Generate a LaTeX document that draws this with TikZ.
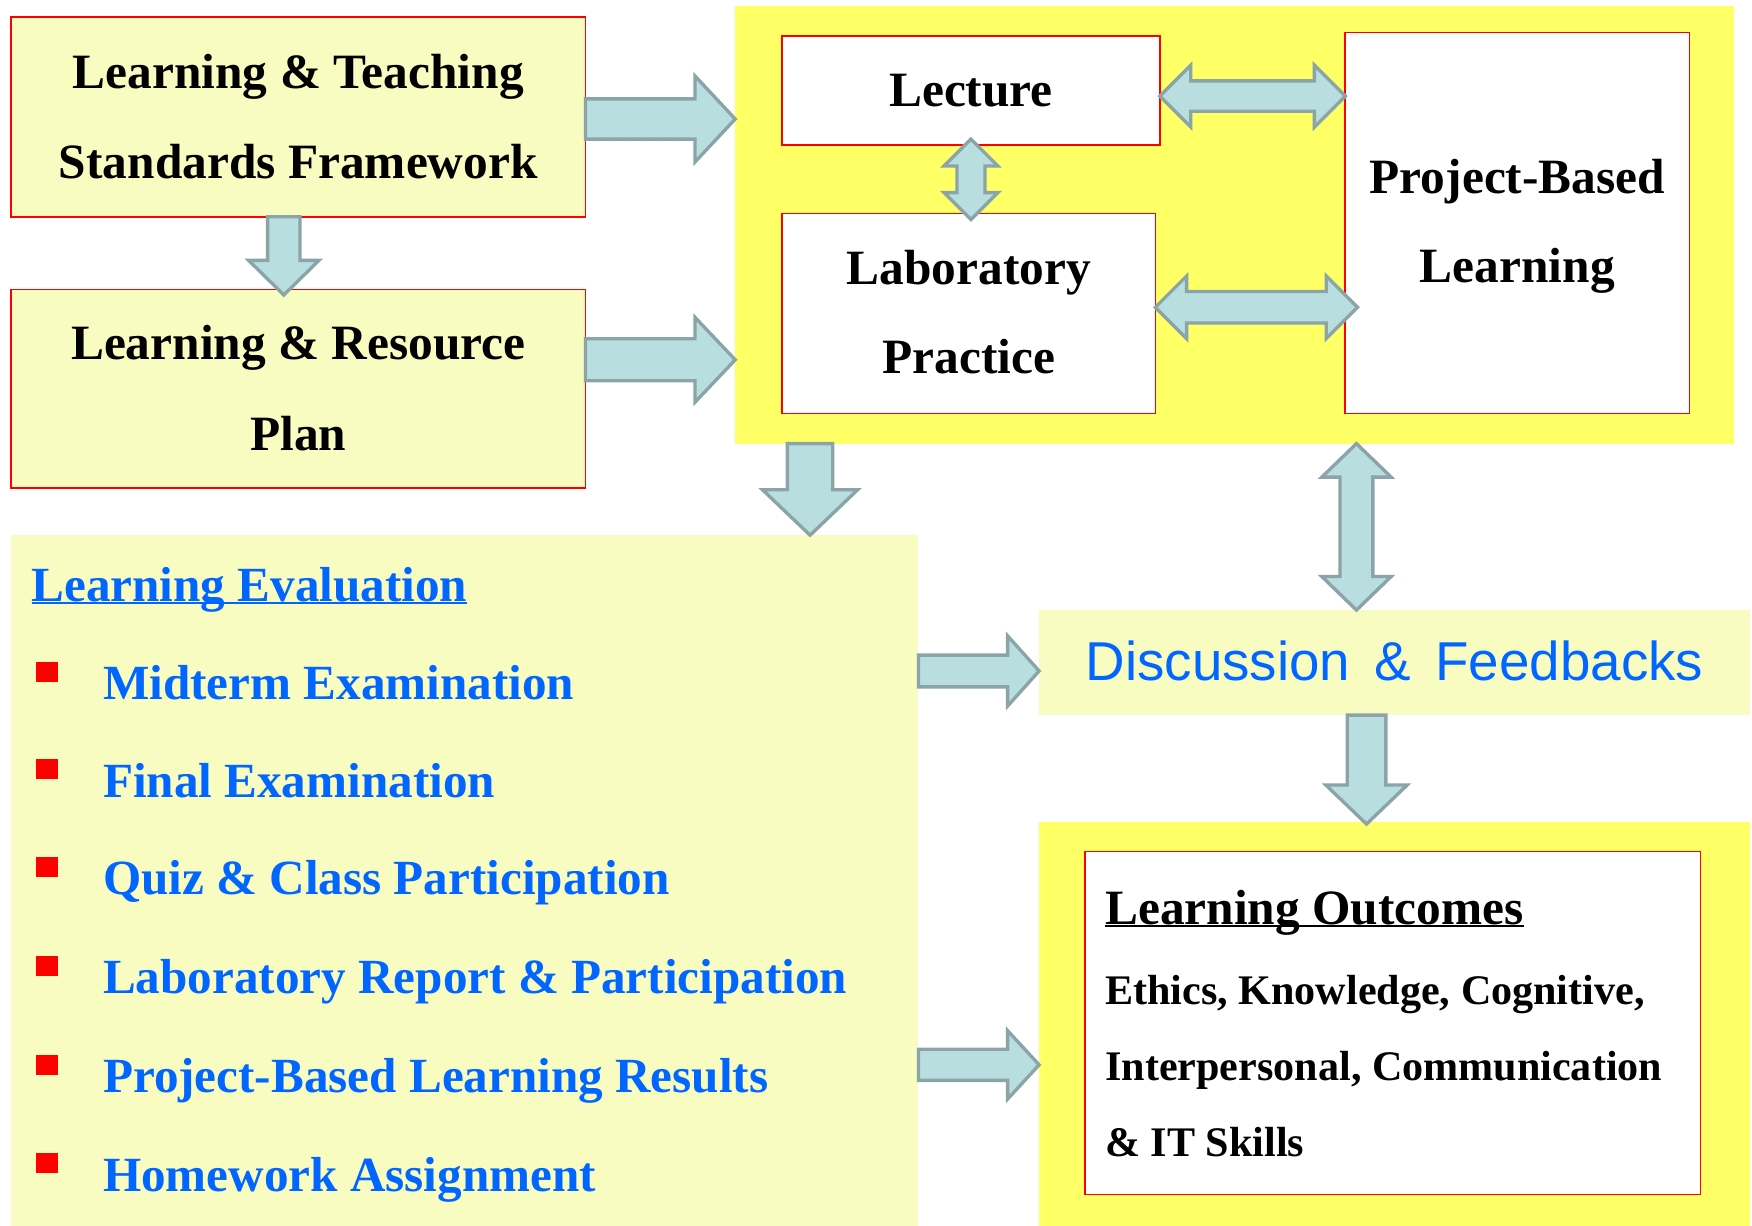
\documentclass[tikz,border=0pt]{standalone}
\usepackage{fontspec}
\setmainfont{Liberation Serif}
\newfontfamily\arialf{Liberation Sans}
\usetikzlibrary{calc}
\definecolor{lightyel}{RGB}{248,252,192}
\definecolor{brightyel}{RGB}{255,255,102}
\definecolor{arrfill}{RGB}{185,222,224}
\definecolor{arrdraw}{RGB}{138,164,168}
\definecolor{txtblue}{RGB}{0,102,255}
\newsavebox\ulbox
\newcommand\myul[1]{\sbox\ulbox{#1}\rlap{\rule[-3pt]{\wd\ulbox}{2pt}}\usebox\ulbox}
% single block arrow: start, end, shaft half width, head half width, head length
\newcommand\singlearr[5]{%
  \path #1 coordinate (bs) #2 coordinate (be);
  \path ($(be)!#5!(bs)$) coordinate (bh);
  \draw[blockarrow] ($(bs)!#3!90:(be)$) -- ($(bh)!#3!90:(be)$) -- ($(bh)!#4!90:(be)$) -- (be)
    -- ($(bh)!#4!-90:(be)$) -- ($(bh)!#3!-90:(be)$) -- ($(bs)!#3!-90:(be)$) -- cycle;}
% double block arrow
\newcommand\doublearr[5]{%
  \path #1 coordinate (bs) #2 coordinate (be);
  \path ($(bs)!#5!(be)$) coordinate (bh1) ($(be)!#5!(bs)$) coordinate (bh2);
  \draw[blockarrow] (bs) -- ($(bh1)!#4!90:(be)$) -- ($(bh1)!#3!90:(be)$) -- ($(bh2)!#3!90:(be)$)
    -- ($(bh2)!#4!90:(be)$) -- (be) -- ($(bh2)!#4!-90:(be)$) -- ($(bh2)!#3!-90:(be)$)
    -- ($(bh1)!#3!-90:(be)$) -- ($(bh1)!#4!-90:(be)$) -- cycle;}
\tikzset{
  box/.style={draw=red, line width=1.5pt, inner sep=0pt, outer sep=0pt},
  ybox/.style={box, fill=lightyel},
  wbox/.style={box, fill=white},
  bigy/.style={fill=brightyel, inner sep=0pt, outer sep=0pt},
  pale/.style={fill=lightyel, inner sep=0pt, outer sep=0pt},
  blockarrow/.style={fill=arrfill, draw=arrdraw, line width=3pt, line join=miter},
  ttl/.style={font=\bfseries\fontsize{44.2}{50}\selectfont, anchor=base, inner sep=0pt},
  item/.style={font=\bfseries\fontsize{44}{54}\selectfont, text=txtblue, anchor=base west, inner sep=0pt},
  bul/.style={fill=red, inner sep=0pt, minimum width=20pt, minimum height=18pt, anchor=north west},
  outt/.style={font=\bfseries\fontsize{37.7}{42}\selectfont, anchor=base west, inner sep=0pt},
}
\begin{document}
\begin{tikzpicture}[x=1pt,y=-1pt]
\useasboundingbox (0,0) rectangle (1568,1097);
% boxes
\node[ybox, minimum width=514pt, minimum height=179pt] (b1) at (267,104.5) {};
\node[ybox, minimum width=514pt, minimum height=178pt] (b2) at (267,348) {};
\node[bigy, minimum width=894pt, minimum height=392pt] (y1) at (1105,201) {};
\node[wbox, minimum width=338pt, minimum height=98pt] (lec) at (869,81) {};
\node[wbox, minimum width=334pt, minimum height=179pt] (lab) at (867,280.5) {};
\node[wbox, minimum width=308pt, minimum height=341pt] (pbl) at (1358,199.5) {};
\node[pale, minimum width=812pt, minimum height=618pt] (le) at (416,788) {};
\node[pale, minimum width=636pt, minimum height=94pt] (disc) at (1248,593) {};
\node[bigy, minimum width=636pt, minimum height=361pt] (y2) at (1248,916.5) {};
\node[wbox, minimum width=551pt, minimum height=307pt] (out) at (1246.5,915.5) {};
% texts
\node[ttl] (t1a) at (267,79) {Learning \& Teaching};
\node[ttl] (t1b) at (267,159.6) {Standards Framework};
\node[ttl] (t2a) at (267,322) {Learning \& Resource};
\node[ttl] (t2b) at (267,402.8) {Plan};
\node[ttl] (tlec) at (869,95.5) {Lecture};
\node[ttl] (tlaba) at (867,254.7) {Laboratory};
\node[ttl] (tlabb) at (867,334.3) {Practice};
\node[ttl] (tpbla) at (1358,173.3) {Project-Based};
\node[ttl] (tpblb) at (1358,253) {Learning};
\node[item] (leh) at (28,538) {\myul{Learning Evaluation}};
\foreach \yy/\txt/\nm in {626/Midterm Examination/i1, 713.3/Final Examination/i2, 800.7/Quiz \& Class Participation/i3, 889.4/Laboratory Report \& Participation/i4, 978/Project-Based Learning Results/i5, 1066/Homework Assignment/i6}{
  \node[bul] (\nm b) at (32,\yy-34) {};
  \node[item] (\nm) at (92,\yy) {\txt};
}
\node[font=\arialf\fontsize{49}{58}\selectfont, text=txtblue, anchor=base, inner sep=0pt] (tdisc) at (1248,608.8) {Discussion \,\&\, Feedbacks};
\node[ttl, anchor=base west] (touth) at (989,827) {\myul{Learning Outcomes}};
\node[outt] (to1) at (989,899) {Ethics, Knowledge, Cognitive,};
\node[outt] (to2) at (989,967.2) {Interpersonal, Communication};
\node[outt] (to3) at (989,1035.4) {\& IT Skills};
% arrows
\singlearr{(b1.east |- 0,106.5)}{(y1.west |- 0,106.5)}{18pt}{38.5pt}{36pt}
\singlearr{(b2.east |- 0,322)}{(y1.west |- 0,322)}{18.8pt}{38pt}{36pt}
\singlearr{(b1.south -| 254,0)}{(254,264)}{14.5pt}{31.5pt}{31pt}
\singlearr{(y1.south -| 725,0)}{(le.north -| 725,0)}{20.3pt}{42.6pt}{40.7pt}
\doublearr{(lec.east |- 0,86)}{(pbl.west |- 0,86)}{13.6pt}{27.7pt}{27.7pt}
\doublearr{(lab.east |- 0,275)}{(1215,275)}{14.1pt}{28pt}{28pt}
\doublearr{(869,124.5)}{(869,196.4)}{12.5pt}{24pt}{24pt}
\doublearr{(y1.south -| 1214,0)}{(disc.north -| 1214,0)}{14.7pt}{31pt}{30pt}
\singlearr{(disc.south -| 1223,0)}{(1223,737.5)}{17.3pt}{36.5pt}{35pt}
\singlearr{(le.east |- 0,600.5)}{(disc.west |- 0,600.5)}{14.2pt}{31.4pt}{28.2pt}
\singlearr{(le.east |- 0,953)}{(y2.west |- 0,953)}{13.9pt}{30.6pt}{28.2pt}
\end{tikzpicture}
\end{document}
